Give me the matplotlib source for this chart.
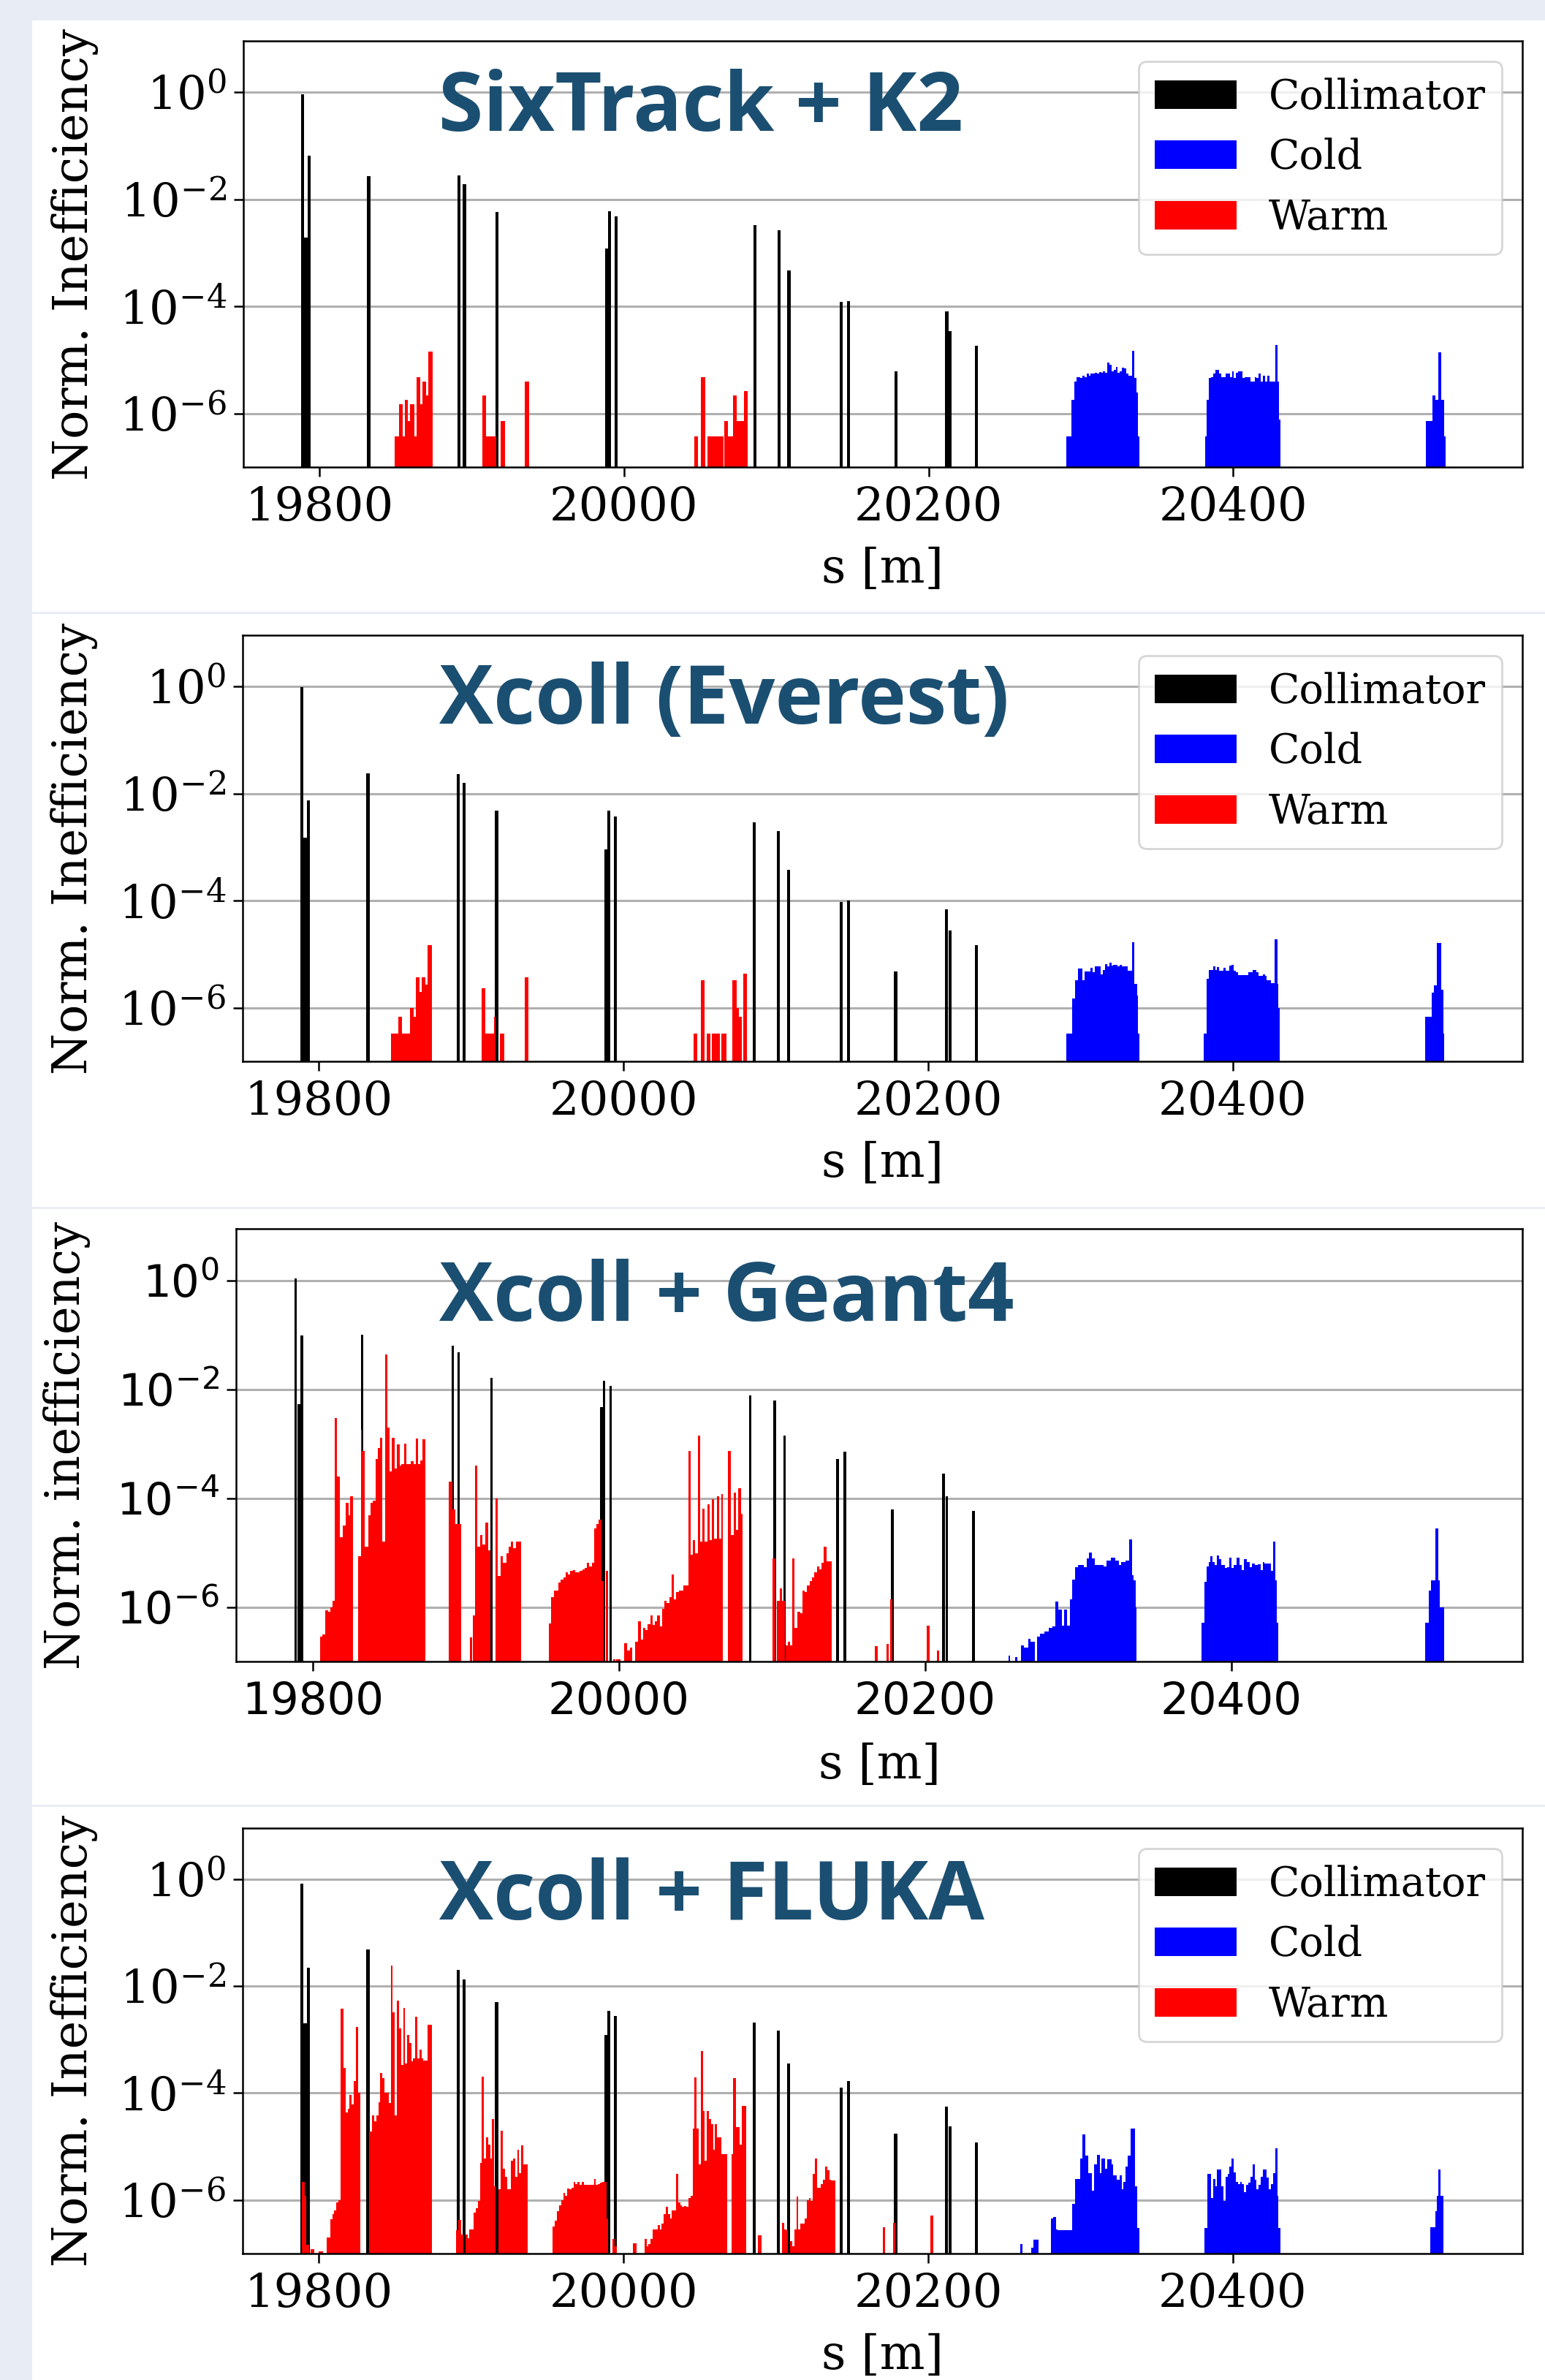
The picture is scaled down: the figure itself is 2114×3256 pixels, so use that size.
import numpy as np
import matplotlib
matplotlib.use("Agg")
import matplotlib.pyplot as plt
from matplotlib.patches import Rectangle
from matplotlib.ticker import NullLocator

plt.rcParams['font.family'] = 'DejaVu Serif'
plt.rcParams['mathtext.fontset'] = 'dejavuserif'

# ---- data -------------------------------------------------------------
titles = ["SixTrack + K2", "Xcoll (Everest)", "Xcoll + Geant4", "Xcoll + FLUKA"]
ylabels = ["Norm. Inefficiency", "Norm. Inefficiency", "Norm. inefficiency", "Norm. Inefficiency"]
xticks = [19800, 20000, 20200, 20400]
yticks = [1e-6, 1e-4, 1e-2, 1e0]
ytick_labels = [r'$10^{-6}$', r'$10^{-4}$', r'$10^{-2}$', r'$10^{0}$']
legend_labels = ["Collimator", "Cold", "Warm"]

# collimator positions [m] and losses per code
coll_s = [19789.0, 19791.0, 19793.0, 19832.3, 19891.4, 19895.2, 19916.7, 19988.6, 19990.3,
          19994.6, 20085.9, 20101.8, 20108.3, 20142.8, 20147.6, 20178.6, 20212.0, 20214.2, 20231.6]
coll_k2 = [0.9, 1.9e-3, 0.064, 0.027, 0.028, 0.019, 5.8e-3, 1.2e-3, 6.0e-3,
           4.8e-3, 3.3e-3, 2.6e-3, 4.7e-4, 1.2e-4, 1.26e-4, 6.2e-6, 8.0e-5, 3.5e-5, 1.85e-5]
coll_ev = [0.98, 1.5e-3, 7.4e-3, 0.024, 0.023, 0.016, 4.8e-3, 9e-4, 4.8e-3,
           3.7e-3, 2.9e-3, 2.0e-3, 3.8e-4, 9.3e-5, 1.0e-4, 4.7e-6, 6.8e-5, 2.8e-5, 1.5e-5]
coll_g4 = [1.1, 5.4e-3, 0.097, 0.1, 0.063, 0.048, 0.0165, 4.8e-3, 0.0145,
           0.0115, 7.7e-3, 6.2e-3, 1.4e-3, 5.2e-4, 7.1e-4, 6.2e-5, 2.8e-4, 1.1e-4, 5.9e-5]
coll_fl = [0.83, 2.0e-3, 0.022, 0.048, 0.020, 0.0134, 5.1e-3, 1.23e-3, 3.4e-3,
           2.8e-3, 2.1e-3, 1.48e-3, 3.6e-4, 1.25e-4, 1.66e-4, 1.74e-5, 5.6e-5, 2.4e-5, 1.2e-5]

# --- SixTrack + K2 (bin edges [m], values; 0 = no loss)
k2_warm_edges = [19849.3, 19852.3, 19854.4, 19856.3, 19858.2, 19859.6, 19862.3, 19863.6, 19866.3, 19867.7,
                 19869.8, 19871.2, 19874.1, 19907.0, 19909.4, 19916.2, 19919.1, 19921.8, 19935.0, 19937.5,
                 20046.1, 20048.4, 20050.6, 20053.4, 20054.7, 20065.5, 20066.0, 20068.4, 20071.4, 20074.2,
                 20078.6, 20081.1]
k2_warm_vals = [3.7e-7, 1.5e-6, 3.7e-7, 1.8e-6, 7.2e-7, 1.5e-6, 3.7e-7, 4.7e-6, 1.5e-6, 4.0e-6,
                2.2e-6, 1.45e-5, 0, 2.2e-6, 3.7e-7, 0, 7.2e-7, 0, 4.0e-6, 0,
                3.7e-7, 0, 4.7e-6, 0, 3.7e-7, 0, 7.2e-7, 3.7e-7, 2.2e-6, 7.2e-7, 2.6e-6]
k2_cold_edges = [20290.5, 20293.7, 20295.6, 20297.0, 20298.4, 20299.7, 20301.1, 20302.5, 20303.8, 20305.2,
                 20306.5, 20307.9, 20309.3, 20310.6, 20312.0, 20313.4, 20314.7, 20316.1, 20317.4, 20318.8,
                 20320.2, 20321.5, 20322.9, 20324.3, 20325.6, 20327.0, 20328.3, 20329.7, 20331.1, 20332.4,
                 20333.8, 20335.1, 20336.5, 20337.3, 20338.7,
                 20381.5, 20382.8, 20384.2, 20385.6, 20386.9, 20388.3, 20389.6, 20391.0, 20392.4, 20393.7,
                 20395.1, 20396.5, 20397.8, 20399.2, 20400.5, 20401.9, 20403.3, 20404.6, 20406.0, 20407.4,
                 20408.7, 20410.1, 20411.4, 20412.8, 20414.2, 20415.5, 20416.9, 20418.3, 20419.6, 20421.0,
                 20422.3, 20423.7, 20425.1, 20426.4, 20427.8, 20429.2, 20430.0, 20431.1,
                 20526.7, 20530.8, 20532.7, 20534.6, 20536.8, 20538.4, 20539.5]
k2_cold_vals = [3.7e-7, 1.8e-6, 4.0e-6, 4.7e-6, 4.8e-6, 4.6e-6, 5.1e-6, 4.8e-6, 5.5e-6, 5.1e-6,
                5.6e-6, 5.5e-6, 5.8e-6, 5.6e-6, 6.0e-6, 5.8e-6, 6.2e-6, 5.8e-6, 8.9e-6, 8.1e-6,
                6.2e-6, 6.6e-6, 7.4e-6, 5.8e-6, 6.2e-6, 7.1e-6, 6.9e-6, 5.5e-6, 5.1e-6, 5.1e-6,
                1.5e-5, 4.6e-6, 2.5e-6, 3.7e-7,
                0,
                3.7e-7, 1.8e-6, 4.6e-6, 4.7e-6, 5.5e-6, 6.6e-6, 6.6e-6, 5.5e-6, 4.8e-6, 4.8e-6,
                5.5e-6, 5.5e-6, 4.8e-6, 6.2e-6, 4.6e-6, 5.8e-6, 6.2e-6, 6.2e-6, 4.6e-6, 4.8e-6,
                4.8e-6, 4.8e-6, 3.9e-6, 3.9e-6, 4.8e-6, 4.6e-6, 5.5e-6, 4.0e-6, 5.1e-6, 4.0e-6,
                5.1e-6, 4.0e-6, 4.0e-6, 4.0e-6, 1.9e-5, 3.9e-6, 7.7e-7,
                0,
                7.2e-7, 2.2e-6, 1.8e-6, 1.4e-5, 1.8e-6, 3.7e-7]

# --- Xcoll (Everest)
ev_warm_edges = [19847.4, 19850.7, 19852.3, 19854.4, 19859.8, 19862.3, 19863.6, 19866.3, 19867.7, 19870.1,
                 19871.4, 19874.1, 19907.0, 19909.4, 19914.8, 19916.2, 19919.1, 19921.8, 19935.0, 19937.5,
                 20046.1, 20048.5, 20050.7, 20053.4, 20054.7, 20056.9, 20058.0, 20063.3, 20064.2, 20067.7,
                 20071.4, 20074.1, 20075.7, 20077.6, 20078.7, 20081.1]
ev_warm_vals = [3.3e-7, 3.3e-7, 6.8e-7, 3.3e-7, 1.0e-6, 6.8e-7, 3.7e-6, 2.0e-6, 3.7e-6, 2.75e-6,
                1.5e-5, 0, 2.3e-6, 3.3e-7, 6.8e-7, 0, 3.3e-7, 0, 3.7e-6, 0,
                3.3e-7, 0, 3.3e-6, 0, 3.3e-7, 0, 3.3e-7, 0, 3.3e-7, 0,
                3.3e-6, 1.0e-6, 6.8e-7, 0, 4.4e-6]
ev_cold_edges = [20290.7, 20294.3, 20296.5, 20298.4, 20299.7, 20301.1, 20302.5, 20303.8, 20305.2, 20306.5,
                 20307.9, 20309.3, 20310.6, 20312.0, 20313.4, 20314.7, 20316.1, 20317.4, 20318.8, 20320.2,
                 20321.5, 20322.9, 20324.3, 20325.6, 20327.0, 20328.3, 20329.7, 20331.1, 20332.4, 20333.8,
                 20335.1, 20336.5, 20337.3, 20337.9, 20338.7,
                 20380.9, 20382.8, 20384.2, 20385.6, 20386.9, 20388.3, 20389.6, 20391.0, 20392.4, 20393.7,
                 20395.1, 20396.5, 20397.8, 20399.2, 20400.5, 20401.9, 20403.3, 20404.6, 20406.0, 20407.4,
                 20408.7, 20410.1, 20411.4, 20412.8, 20414.2, 20415.5, 20416.9, 20418.3, 20419.6, 20421.0,
                 20422.3, 20423.7, 20425.1, 20426.4, 20427.2, 20429.2, 20430.0, 20430.8,
                 20526.4, 20530.5, 20532.1, 20534.0, 20536.8, 20538.4, 20538.9]
ev_cold_vals = [3.3e-7, 1.5e-6, 3.3e-6, 5.4e-6, 5.4e-6, 3.3e-6, 4.7e-6, 4.7e-6, 4.7e-6, 5.6e-6,
                4.6e-6, 5.9e-6, 5.9e-6, 5.9e-6, 4.2e-6, 5.1e-6, 6.6e-6, 5.9e-6, 6.9e-6, 6.1e-6,
                6.4e-6, 6.4e-6, 5.9e-6, 6.3e-6, 6.0e-6, 5.9e-6, 5.9e-6, 4.9e-6, 4.9e-6, 1.66e-5,
                2.8e-6, 2.8e-6, 1.7e-6, 3.3e-7,
                0,
                3.3e-7, 3.5e-6, 5.1e-6, 5.1e-6, 5.9e-6, 5.1e-6, 5.8e-6, 4.9e-6, 4.9e-6, 5.5e-6,
                4.9e-6, 4.9e-6, 6.1e-6, 6.4e-6, 4.9e-6, 4.6e-6, 4.1e-6, 4.1e-6, 4.1e-6, 4.1e-6,
                4.1e-6, 4.6e-6, 4.6e-6, 5.1e-6, 5.1e-6, 4.6e-6, 4.0e-6, 4.0e-6, 4.2e-6, 4.0e-6,
                3.3e-6, 3.3e-6, 2.9e-6, 2.9e-6, 1.9e-5, 2.8e-6, 1.0e-6,
                0,
                6.8e-7, 1.9e-6, 2.6e-6, 1.6e-5, 2.2e-6, 3.3e-7]

# --- Xcoll + Geant4
g4_warm_edges = [19804.7, 19806.5, 19808.4, 19809.9, 19811.5, 19813.0, 19814.6, 19815.8, 19817.7, 19819.6,
                 19821.4, 19823.3, 19824.5, 19826.4, 19829.5, 19831.4, 19832.3, 19833.8, 19836.3, 19837.9,
                 19839.4, 19841.0, 19842.5, 19844.1, 19845.6, 19847.2, 19848.7, 19850.3, 19851.8, 19853.4,
                 19855.0, 19856.8, 19858.1, 19859.6, 19861.2, 19862.7, 19864.3, 19865.8, 19867.4, 19868.9,
                 19870.5, 19871.7, 19873.6,
                 19889.1, 19891.3, 19893.1, 19895.3, 19897.2, 19902.5, 19904.0, 19904.6, 19906.2, 19907.7,
                 19909.6, 19910.8, 19912.7, 19914.6, 19916.1, 19919.5, 19921.1, 19922.6, 19924.2, 19926.4,
                 19927.9, 19929.5, 19931.0, 19932.6, 19934.1, 19936.3,
                 19954.3, 19955.8, 19957.4, 19958.9, 19960.5, 19962.1, 19963.6, 19965.2, 19966.7, 19968.3,
                 19969.8, 19971.4, 19972.9, 19974.5, 19976.0, 19977.6, 19979.1, 19980.7, 19982.2, 19983.8,
                 19985.3, 19986.9, 19988.5, 19990.3, 19991.6, 19993.1, 19996.2, 19997.5, 19998.4, 20000.9,
                 20003.4, 20005.2, 20007.1, 20008.9, 20010.8, 20012.7, 20014.2, 20015.8, 20017.3, 20018.9,
                 20020.4, 20022.0, 20023.5, 20025.1, 20026.6, 20028.2, 20029.7, 20031.3, 20032.8, 20034.4,
                 20036.0, 20037.5, 20039.1, 20040.6, 20042.2, 20043.7, 20045.3, 20046.8, 20048.4, 20049.9,
                 20051.5, 20053.0, 20054.6, 20056.1, 20057.7, 20059.2, 20060.8, 20062.3, 20063.9, 20065.4,
                 20067.0, 20067.9, 20071.0, 20072.9, 20074.8, 20076.3, 20077.9, 20079.7, 20080.7,
                 20100.2, 20102.1, 20103.3, 20105.2, 20106.7, 20108.3, 20108.9, 20110.5, 20112.0, 20113.3,
                 20114.8, 20116.4, 20118.3, 20119.8, 20121.4, 20122.9, 20124.5, 20126.1, 20127.6, 20129.2,
                 20130.7, 20132.3, 20133.8, 20135.4, 20136.9, 20138.8,
                 20167.0, 20169.0, 20174.8, 20176.1, 20177.0, 20178.8, 20201.1, 20202.7, 20207.6, 20209.2]
g4_warm_vals = [2.9e-7, 3.1e-7, 8.7e-7, 8.1e-7, 1.0e-6, 1.3e-6, 3.0e-3, 2.5e-4, 1.95e-5, 3.2e-5,
                8.3e-5, 4.8e-5, 1.1e-4, 0, 8.5e-6, 1.8e-3, 7.4e-4, 1.3e-5, 4.8e-5, 8.3e-5,
                9.1e-5, 5.2e-4, 8.5e-4, 1.3e-3, 1.6e-5, 0.044, 2.0e-3, 3.1e-4, 1.3e-3, 3.5e-4,
                9.8e-4, 4.0e-4, 4.3e-4, 1.0e-3, 4.3e-4, 4.3e-4, 4.8e-4, 4.3e-4, 1.26e-3, 4.3e-4,
                4.9e-4, 1.2e-3,
                0,
                2.0e-4, 6.3e-5, 3.4e-5, 3.4e-5, 0, 2.8e-7, 0, 7.1e-7, 4.0e-4, 1.3e-5,
                2.1e-5, 1.4e-5, 3.6e-5, 1.1e-5, 0, 1.0e-4, 3.7e-6, 8.7e-6, 6.5e-6, 9.8e-6,
                1.3e-5, 1.6e-5, 1.2e-5, 1.6e-5, 1.6e-5,
                0,
                5.0e-7, 1.5e-6, 2.0e-6, 2.0e-6, 2.8e-6, 3.2e-6, 3.5e-6, 4.3e-6, 4.0e-6, 4.6e-6,
                4.8e-6, 4.3e-6, 4.4e-6, 4.6e-6, 4.9e-6, 5.2e-6, 6.6e-6, 5.6e-6, 6.6e-6, 2.75e-5,
                3.4e-5, 4.0e-5, 3.0e-6, 0, 4.6e-6, 0, 1.1e-7, 0, 1.1e-7,
                0,
                2.2e-7, 1.6e-7, 1.8e-7, 0, 2.3e-7, 5.4e-7, 2.5e-7, 4.1e-7, 3.8e-7, 4.8e-7,
                7.1e-7, 4.7e-7, 5.4e-7, 7.1e-7, 4.4e-7, 9.3e-7, 1.3e-6, 1.2e-6, 1.5e-6, 4.0e-6,
                1.4e-6, 1.9e-6, 2.0e-6, 2.0e-6, 2.5e-6, 2.5e-6, 7.4e-4, 9.1e-6, 1.7e-5, 9.8e-6,
                1.4e-3, 1.6e-5, 6.5e-5, 1.6e-5, 7.8e-5, 1.7e-5, 9.5e-5, 1.8e-5, 1.1e-4, 1.8e-5,
                1.2e-4, 0, 7.4e-4, 2.1e-5, 1.26e-4, 2.6e-5, 1.55e-4, 5.1e-5,
                0,
                7.9e-6, 0, 1.3e-6, 2.2e-6, 1.3e-6, 0, 2.0e-7, 2.3e-7, 2.0e-7, 7.9e-6,
                4.1e-7, 8.1e-7, 7.6e-7, 2.0e-6, 1.9e-6, 2.5e-6, 3.0e-6, 3.5e-6, 4.3e-6, 5.6e-6,
                4.9e-6, 6.5e-6, 1.3e-5, 6.9e-6, 6.9e-6,
                0,
                1.9e-7, 0, 2.1e-7, 0, 1.4e-6, 0, 4.6e-7, 0, 1.6e-7]
g4_cold_edges = [20254.3, 20255.4, 20258.9, 20260.2, 20262.4, 20264.3, 20267.3, 20268.9, 20271.6, 20273.3,
                 20275.2, 20277.9, 20280.6, 20283.3, 20285.2, 20286.8, 20289.3, 20290.9, 20292.8, 20294.4,
                 20296.1, 20297.7, 20299.6, 20303.7, 20305.6, 20307.2, 20308.8, 20311.0, 20313.7, 20316.4,
                 20318.6, 20321.3, 20324.0, 20326.7, 20328.1, 20330.8, 20333.0, 20335.1, 20336.2, 20337.3,
                 20338.1,
                 20380.5, 20382.4, 20383.8, 20385.1, 20386.4, 20387.8, 20389.1, 20390.5, 20391.9, 20393.2,
                 20395.9, 20397.3, 20398.6, 20400.0, 20401.4, 20403.5, 20405.4, 20406.8, 20408.1, 20410.0,
                 20412.2, 20413.6, 20415.5, 20417.1, 20419.0, 20420.4, 20421.7, 20423.1, 20425.8, 20427.1,
                 20428.8, 20429.6, 20430.4,
                 20526.7, 20528.9, 20530.5, 20533.2, 20534.9, 20536.2, 20538.7]
g4_cold_vals = [1.3e-7, 0, 1.2e-7, 0, 1.95e-7, 1.8e-7, 2.6e-7, 2.3e-7, 0, 2.9e-7,
                3.2e-7, 3.6e-7, 4.1e-7, 4.4e-7, 1.26e-6, 9.1e-7, 4.6e-7, 9.1e-7, 4.6e-7, 1.4e-6,
                3.2e-6, 5.4e-6, 5.9e-6, 5.4e-6, 7.8e-6, 1.0e-5, 7.8e-6, 5.9e-6, 6.0e-6, 5.5e-6,
                7.2e-6, 8.1e-6, 7.2e-6, 5.9e-6, 6.8e-6, 7.2e-6, 1.74e-5, 3.8e-6, 3.1e-6, 1.0e-6,
                0,
                5.2e-7, 2.9e-6, 5.6e-6, 6.8e-6, 8.5e-6, 6.8e-6, 6.0e-6, 8.9e-6, 7.5e-6, 6.0e-6,
                5.3e-6, 5.4e-6, 8.2e-6, 5.3e-6, 6.0e-6, 8.0e-6, 6.0e-6, 4.8e-6, 7.5e-6, 6.8e-6,
                5.4e-6, 6.4e-6, 6.0e-6, 6.2e-6, 4.8e-6, 6.8e-6, 6.4e-6, 6.4e-6, 4.7e-6, 1.6e-5,
                3.1e-6, 5.2e-7,
                0,
                5.2e-7, 2.0e-6, 3.1e-6, 2.75e-5, 3.1e-6, 1.0e-6]

# --- Xcoll + FLUKA
fl_warm_edges = [19788.7, 19790.8, 19791.9, 19793.5, 19794.6, 19796.8, 19800.0, 19802.7, 19805.4,
                 19807.5, 19808.9, 19810.2, 19811.6, 19812.9, 19814.3, 19816.2, 19817.5, 19818.9, 19820.2,
                 19821.6, 19822.9, 19824.3, 19825.6, 19827.0, 19833.2, 19835.0, 19836.4, 19837.7, 19839.1,
                 19840.4, 19841.8, 19843.1, 19844.5, 19845.8, 19847.2, 19848.5, 19849.9, 19851.2, 19852.6,
                 19853.9, 19855.3, 19856.6, 19858.0, 19859.3, 19860.6, 19862.0, 19863.3, 19864.7, 19866.0,
                 19867.4, 19868.7, 19870.1, 19871.4, 19874.1,
                 19890.3, 19891.6, 19893.5, 19895.1, 19896.2, 19897.6, 19898.9, 19900.3, 19901.6, 19903.0,
                 19904.3, 19905.7, 19907.0, 19908.4, 19909.7, 19911.1, 19912.4, 19913.7, 19915.1, 19915.9,
                 19918.1, 19919.4, 19920.8, 19922.1, 19923.5, 19924.8, 19926.1, 19927.5, 19928.8, 19930.2,
                 19931.5, 19932.9, 19934.2, 19935.6, 19936.9,
                 19953.6, 19955.0, 19956.3, 19957.7, 19959.0, 19960.4, 19961.7, 19963.1, 19964.4, 19965.8,
                 19967.1, 19968.5, 19969.8, 19971.2, 19972.5, 19973.9, 19975.2, 19976.5, 19977.9, 19979.2,
                 19980.6, 19981.9, 19983.3, 19984.6, 19986.0, 19987.3, 19988.7, 19990.0, 19992.7, 19994.1,
                 19995.4,
                 20006.2, 20008.4, 20013.7, 20015.1, 20016.4, 20017.8, 20019.1, 20021.0, 20022.4, 20023.7,
                 20025.1, 20026.4, 20027.8, 20029.1, 20030.5, 20031.8, 20033.2, 20034.5, 20035.8, 20037.2,
                 20038.5, 20039.9, 20041.2, 20042.6, 20043.9, 20045.3, 20046.6, 20048.0, 20049.3, 20050.7,
                 20052.0, 20053.4, 20054.7, 20056.1, 20057.4, 20058.8, 20060.1, 20061.5, 20062.8, 20064.2,
                 20065.5, 20066.8, 20068.2, 20070.9, 20071.7, 20073.6, 20074.9, 20076.3, 20077.6, 20079.0,
                 20080.3, 20088.4, 20090.6,
                 20104.0, 20105.4, 20106.7, 20108.1, 20109.4, 20110.8, 20112.1, 20113.5, 20114.8, 20116.2,
                 20117.5, 20118.9, 20120.2, 20121.6, 20122.9, 20124.3, 20125.6, 20127.0, 20128.3, 20129.6,
                 20131.0, 20132.3, 20133.7, 20135.0, 20136.4, 20137.7, 20139.1,
                 20170.0, 20171.6, 20177.1, 20178.5, 20201.6, 20203.5]
fl_warm_vals = [2.2e-6, 1.2e-6, 1.45e-7, 0, 1.2e-7, 0, 1.1e-7, 0,
                2.0e-7, 4.4e-7, 5.5e-7, 6.5e-7, 9.1e-7, 1.0e-6, 3.8e-3, 3.0e-4, 4.3e-5, 5.1e-5,
                9.3e-5, 6.2e-5, 1.7e-4, 1.7e-3, 1.0e-4, 0, 1.9e-5, 3.8e-5, 3.0e-5, 3.8e-5,
                6.8e-5, 2.4e-4, 1.9e-4, 1.0e-4, 1.0e-4, 6.6e-5, 0.024, 3.2e-3, 3.8e-5, 5.4e-3,
                1.6e-3, 3.4e-4, 3.9e-3, 3.6e-4, 1.23e-3, 8.5e-4, 3.9e-4, 4.4e-4, 2.7e-3, 4.4e-4,
                6.5e-4, 4.4e-4, 4.1e-4, 4.1e-4, 1.9e-3,
                0,
                2.7e-7, 4.2e-7, 2.3e-7, 0, 2.3e-7, 1.95e-7, 2.8e-7, 2.8e-7, 5.9e-7, 7.1e-7,
                9.5e-7, 5.0e-6, 2.0e-4, 6.0e-6, 1.5e-5, 1.1e-5, 6.0e-6, 3.3e-5, 1.8e-6, 0,
                1.6e-6, 2.0e-5, 3.9e-6, 2.7e-6, 1.6e-6, 1.6e-6, 5.4e-6, 6.0e-6, 2.7e-6, 8.7e-6,
                3.2e-6, 1.05e-5, 4.7e-6, 4.7e-6,
                0,
                3.2e-7, 4.1e-7, 6.3e-7, 7.9e-7, 1.0e-6, 1.35e-6, 1.2e-6, 1.66e-6, 1.6e-6, 1.7e-6,
                2.2e-6, 2.0e-6, 2.2e-6, 1.9e-6, 2.2e-6, 1.9e-6, 1.9e-6, 1.9e-6, 1.9e-6, 1.9e-6,
                2.5e-6, 1.9e-6, 2.0e-6, 2.1e-6, 2.2e-6, 2.2e-6, 4.5e-7, 0, 1.9e-7, 1.35e-7,
                0,
                1.55e-7, 0, 1.9e-7, 1.35e-7, 1.5e-7, 1.9e-7, 2.8e-7, 2.8e-7, 3.4e-7, 2.8e-7,
                3.6e-7, 5.4e-7, 7.6e-7, 5.4e-7, 4.6e-7, 6.5e-7, 6.5e-7, 3.1e-6, 9.1e-7, 8.0e-7,
                7.5e-7, 7.7e-7, 7.5e-7, 1.1e-6, 1.2e-6, 2.2e-5, 1.95e-4, 2.2e-5, 4.7e-6, 6.2e-4,
                4.6e-5, 5.4e-6, 4.6e-5, 3.3e-5, 2.6e-5, 8.7e-6, 2.6e-5, 1.5e-5, 1.5e-5, 7.2e-6,
                7.2e-6, 7.2e-6, 0, 7.2e-6, 1.9e-4, 2.3e-5, 2.3e-5, 1.1e-5, 5.8e-5, 5.8e-5,
                0, 2.2e-7,
                0,
                3.8e-7, 2.8e-7, 2.75e-7, 0, 1.7e-7, 1.35e-7, 2.8e-7, 1.15e-6, 2.8e-7, 3.6e-7,
                3.6e-7, 4.6e-7, 1.0e-6, 1.1e-6, 9.6e-7, 3.1e-6, 6.0e-6, 1.7e-6, 1.7e-6, 2.0e-6,
                2.4e-6, 4.2e-6, 3.6e-6, 2.4e-6, 2.3e-6, 2.3e-6,
                0,
                3.1e-7, 0, 3.8e-7, 0, 5.1e-7]
fl_cold_edges = [20260.2, 20262.1, 20267.6, 20269.2, 20270.8, 20272.5, 20280.7, 20282.0, 20283.9, 20284.7,
                 20294.3, 20296.5, 20299.7, 20301.1, 20303.3, 20305.2, 20307.4, 20308.7, 20310.6, 20312.5,
                 20313.9, 20316.0, 20317.4, 20320.2, 20321.5, 20323.7, 20325.6, 20327.0, 20328.3, 20329.7,
                 20331.1, 20333.0, 20335.7, 20337.3, 20338.4,
                 20381.5, 20383.4, 20385.6, 20386.9, 20388.3, 20389.6, 20391.0, 20392.4, 20393.7, 20395.1,
                 20396.5, 20397.8, 20399.2, 20400.5, 20401.9, 20403.3, 20404.6, 20406.0, 20407.4, 20408.7,
                 20410.1, 20411.4, 20412.8, 20414.2, 20415.5, 20416.9, 20418.3, 20419.6, 20421.0, 20422.3,
                 20423.7, 20425.1, 20426.4, 20427.8, 20429.2, 20430.0, 20431.1,
                 20529.4, 20532.7, 20534.1, 20534.6, 20536.2, 20538.2]
fl_cold_vals = [1.5e-7, 0, 1.3e-7, 1.8e-7, 1.8e-7, 0, 4.6e-7, 4.8e-7, 2.8e-7, 2.7e-7,
                8.5e-7, 2.5e-6, 6.0e-6, 1.7e-5, 6.8e-6, 3.2e-6, 1.5e-6, 4.7e-6, 6.9e-6, 3.2e-6,
                6.0e-6, 3.9e-6, 5.8e-6, 4.7e-6, 2.9e-6, 2.4e-6, 2.9e-6, 1.6e-6, 2.2e-6, 4.2e-6,
                6.8e-6, 2.2e-5, 1.8e-6, 3.0e-7,
                0,
                3.0e-7, 3.1e-6, 1.1e-6, 2.5e-6, 1.8e-6, 3.7e-6, 3.7e-6, 1.8e-6, 9.6e-7, 2.7e-6,
                3.1e-6, 4.2e-6, 6.0e-6, 3.3e-6, 2.2e-6, 2.0e-6, 2.2e-6, 2.0e-6, 1.4e-6, 1.9e-6,
                2.1e-6, 2.7e-6, 4.7e-6, 2.4e-6, 1.6e-6, 1.9e-6, 2.7e-6, 3.7e-6, 3.7e-6, 2.6e-6,
                1.6e-6, 2.0e-6, 3.2e-6, 9.3e-6, 1.2e-6, 3.0e-7,
                0,
                3.1e-7, 6.3e-7, 1.2e-6, 3.7e-6, 1.2e-6]

panels = [
    (coll_k2, k2_cold_edges, k2_cold_vals, k2_warm_edges, k2_warm_vals),
    (coll_ev, ev_cold_edges, ev_cold_vals, ev_warm_edges, ev_warm_vals),
    (coll_g4, g4_cold_edges, g4_cold_vals, g4_warm_edges, g4_warm_vals),
    (coll_fl, fl_cold_edges, fl_cold_vals, fl_warm_edges, fl_warm_vals),
]

# ---- layout (figure pixels 2114 x 3256) -------------------------------
W, H = 2114, 3256
axes_px = [(333, 56, 2083, 639), (332, 869, 2083, 1452), (323, 1681, 2083, 2273), (332, 2501, 2083, 3083)]
cards_px = [(28, 837), (840, 1651), (1654, 2469), (2472, 3256)]
title_pos = [(0.1526, 0.789), (0.1534, 0.793), (0.1582, 0.787), (0.1534, 0.785)]


def draw_steps(ax, edges, vals, color):
    e = np.asarray(edges, dtype=float)
    v = np.asarray(vals, dtype=float)
    keep = v > 0
    return ax.bar(e[:-1][keep], v[keep], width=np.diff(e)[keep], align='edge',
                  color=color, linewidth=0)


fig = plt.figure(figsize=(W / 100, H / 100), dpi=100, facecolor='#e8edf5')
for y0, y1 in cards_px:
    fig.add_artist(Rectangle((44 / W, 1 - y1 / H), 1 - 44 / W, (y1 - y0) / H,
                             transform=fig.transFigure, facecolor='white',
                             edgecolor='none', zorder=-1))

for i, (coll, c_edges, c_vals, w_edges, w_vals) in enumerate(panels):
    x0, y0, x1, y1 = axes_px[i]
    ax = fig.add_axes([x0 / W, 1 - y1 / H, (x1 - x0) / W, (y1 - y0) / H])
    ax.set_yscale('log')

    bw = 1.6 if i == 2 else 2.0
    h_coll = ax.bar(coll_s, coll, width=bw, color='black', linewidth=0)
    h_cold = draw_steps(ax, c_edges, c_vals, 'blue')
    h_warm = draw_steps(ax, w_edges, w_vals, 'red')

    ax.set_xlim(19750, 20590)
    if i == 2:
        tick_font = dict(fontsize=44, family='DejaVu Sans', math_fontfamily='dejavusans')
    else:
        tick_font = dict(fontsize=46, family='DejaVu Serif', math_fontfamily='dejavuserif')
    ax.set_xticks(xticks, [str(t) for t in xticks], **tick_font)
    ax.set_yticks(yticks, ytick_labels, **tick_font)
    ax.yaxis.set_minor_locator(NullLocator())
    ax.set_ylim(1e-7, 9)

    ax.tick_params(axis='both', length=9.5, width=1.8)
    ax.tick_params(axis='x', pad=9)
    ax.tick_params(axis='y', pad=7)
    for sp in ax.spines.values():
        sp.set_linewidth(1.8)

    ax.grid(axis='y', color='#b0b0b0', linewidth=2.2)
    ax.set_axisbelow(True)

    ax.set_ylabel(ylabels[i], fontsize=47)
    ax.yaxis.set_label_coords(-0.113, 0.5)
    ax.set_xlabel('s [m]', fontsize=47)
    ax.xaxis.set_label_coords(0.5, -0.185)

    tx, ty = title_pos[i]
    ax.text(tx, ty, titles[i], transform=ax.transAxes, fontsize=80, fontweight='bold',
            family='Open Sans', color='#1b4f72', ha='left', va='baseline', zorder=10)

    if i != 2:
        leg = ax.legend([h_coll, h_cold, h_warm], legend_labels, loc='upper right', fontsize=40)
        leg.get_frame().set_linewidth(2)

fig.savefig('out.png', dpi=100, facecolor=fig.get_facecolor())
